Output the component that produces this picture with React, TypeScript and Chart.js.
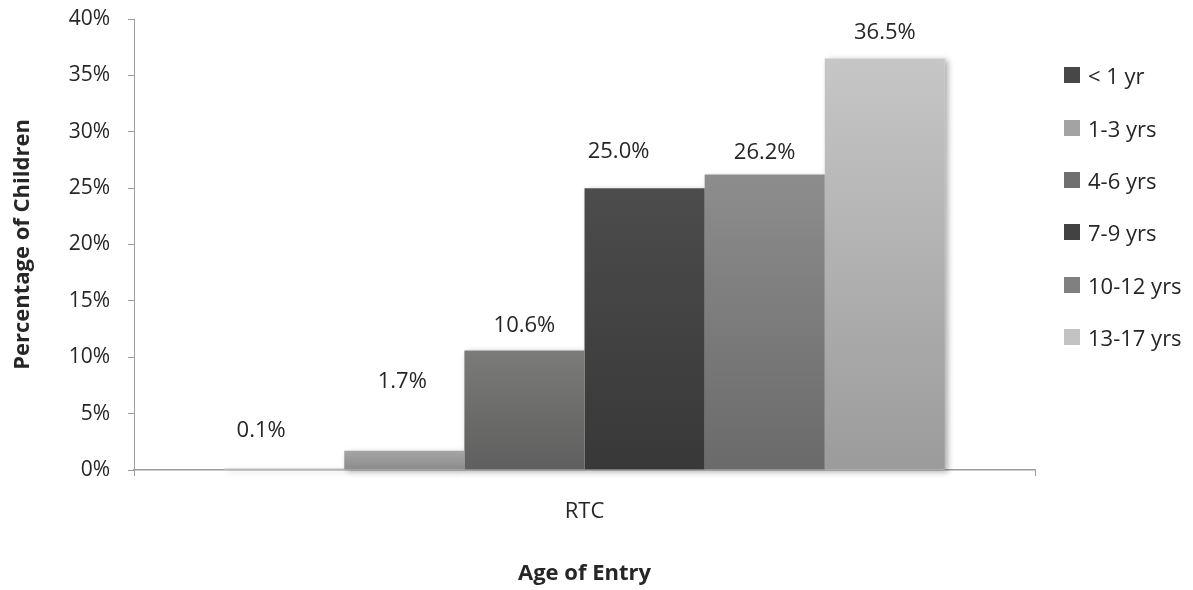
import { useEffect, useRef } from 'react';
import { Chart, registerables } from 'chart.js';

Chart.register(...registerables);

// ---- data ----
const categories = ['RTC'];
const seriesNames = ['< 1 yr', '1-3 yrs', '4-6 yrs', '7-9 yrs', '10-12 yrs', '13-17 yrs'];
const seriesValues = [0.1, 1.7, 10.6, 25.0, 26.2, 36.5];
const yMin = 0;
const yMax = 40;
const yStep = 5;
const yTitle = 'Percentage of Children';
const xTitle = 'Age of Entry';

// ---- styles ----
const FONT = "'Open Sans', 'Noto Sans', sans-serif";
const TEXT = '#262626';
const AXIS = '#9c9c9c';
const barTopColor = ['#8e8e8e', '#a5a5a5', '#7b7b79', '#4b4c4b', '#8d8d8d', '#c6c6c6'];
const barBottomColor = ['#6e6e6e', '#8b8b8b', '#5e5f5e', '#383838', '#6a6a6a', '#9b9b9b'];
const swatchColor = ['#474747', '#a3a3a3', '#707070', '#424242', '#808080', '#c3c3c3'];
// value label offsets [dx, lift above bar top] in px
const labelNudge: [number, number][] = [[-23, 38], [-2, 69], [0, 25], [-26, 36], [0, 22], [0, 26]];

const barShadow = {
  id: 'barShadow',
  beforeDatasetsDraw(chart: any) {
    const ctx = chart.ctx;
    ctx.save();
    ctx.shadowColor = 'rgba(0,0,0,0.32)';
    ctx.shadowBlur = 6;
    ctx.shadowOffsetX = 3;
    ctx.shadowOffsetY = 2;
    ctx.fillStyle = '#ffffff';
    chart.data.datasets.forEach((_d: any, i: number) => {
      const meta = chart.getDatasetMeta(i);
      meta.data.forEach((el: any) => {
        const h = el.base - el.y;
        ctx.fillRect(el.x - el.width / 2, el.y, el.width, Math.max(h, 1));
      });
    });
    ctx.restore();
  },
};

const valueLabels = {
  id: 'valueLabels',
  afterDatasetsDraw(chart: any) {
    const ctx = chart.ctx;
    ctx.save();
    ctx.font = `22px ${FONT}`;
    ctx.fillStyle = TEXT;
    ctx.textAlign = 'center';
    ctx.textBaseline = 'middle';
    chart.data.datasets.forEach((ds: any, i: number) => {
      const meta = chart.getDatasetMeta(i);
      meta.data.forEach((el: any, j: number) => {
        const v = ds.data[j] as number;
        const [dx, lift] = labelNudge[i];
        ctx.fillText(`${v.toFixed(1)}%`, el.x + dx, el.y - lift);
      });
    });
    ctx.restore();
  },
};

function gradientFor(i: number) {
  return (c: any) => {
    const chart = c.chart;
    const y = chart.scales?.y;
    if (!chart.chartArea || !y || typeof c.raw !== 'number') return barBottomColor[i];
    const top = y.getPixelForValue(c.raw);
    const base = y.getPixelForValue(0);
    if (!isFinite(top) || !isFinite(base) || base - top < 1) return barTopColor[i];
    const g = chart.ctx.createLinearGradient(0, top, 0, base);
    g.addColorStop(0, barTopColor[i]);
    g.addColorStop(1, barBottomColor[i]);
    return g;
  };
}

export default function App() {
  const canvasRef = useRef<HTMLCanvasElement | null>(null);

  useEffect(() => {
    if (!canvasRef.current) return;
    const chart = new Chart(canvasRef.current, {
      type: 'bar',
      data: {
        labels: categories,
        datasets: seriesNames.map((name, i) => ({
          label: name,
          data: [seriesValues[i]],
          backgroundColor: gradientFor(i),
          borderWidth: 0,
          categoryPercentage: 0.8,
          barPercentage: 1,
        })),
      },
      options: {
        responsive: false,
        animation: false,
        layout: { padding: { top: 19, right: 158, bottom: 0, left: 0 } },
        plugins: {
          legend: { display: false },
          tooltip: { enabled: false },
        },
        scales: {
          x: {
            grid: { drawOnChartArea: false, tickLength: 6, color: AXIS, offset: true },
            border: { color: AXIS, width: 1.5 },
            ticks: { color: TEXT, font: { family: FONT, size: 22 }, padding: 23 },
            title: {
              display: true,
              text: xTitle,
              color: TEXT,
              font: { family: FONT, size: 22, weight: 'bold' },
              padding: { top: 0, bottom: 3 },
            },
            afterFit: (s: any) => {
              s.height = 120;
              s.paddingLeft = 0;
              s.paddingRight = 0;
            },
          },
          y: {
            min: yMin,
            max: yMax,
            grid: { drawOnChartArea: false, tickLength: 6, color: AXIS },
            border: { color: AXIS, width: 1 },
            ticks: {
              stepSize: yStep,
              color: TEXT,
              font: { family: FONT, size: 21 },
              padding: 18,
              callback: (v: any) => `${v}%`,
            },
            title: {
              display: true,
              text: yTitle,
              color: TEXT,
              font: { family: FONT, size: 22, weight: 'bold' },
              padding: { top: 10, bottom: 0 },
            },
            afterFit: (s: any) => {
              s.width = 134;
              s.paddingTop = 0;
              s.paddingBottom = 0;
            },
          },
        },
      },
      plugins: [barShadow, valueLabels],
    });
    return () => chart.destroy();
  }, []);

  return (
    <div style={{ position: 'absolute', left: 0, top: 0, width: 1193, height: 590, background: '#fff' }}>
      <canvas ref={canvasRef} width={1193} height={590} style={{ display: 'block' }} />
      <div style={{ position: 'absolute', left: 1064, top: 49, fontFamily: FONT, fontSize: 22, color: TEXT }}>
        {seriesNames.map((name, i) => (
          <div key={name} style={{ height: 52.4, display: 'flex', alignItems: 'center', whiteSpace: 'nowrap' }}>
            <span style={{ display: 'inline-block', width: 16, height: 16, background: swatchColor[i], marginRight: 8 }} />
            <span>{name}</span>
          </div>
        ))}
      </div>
    </div>
  );
}
